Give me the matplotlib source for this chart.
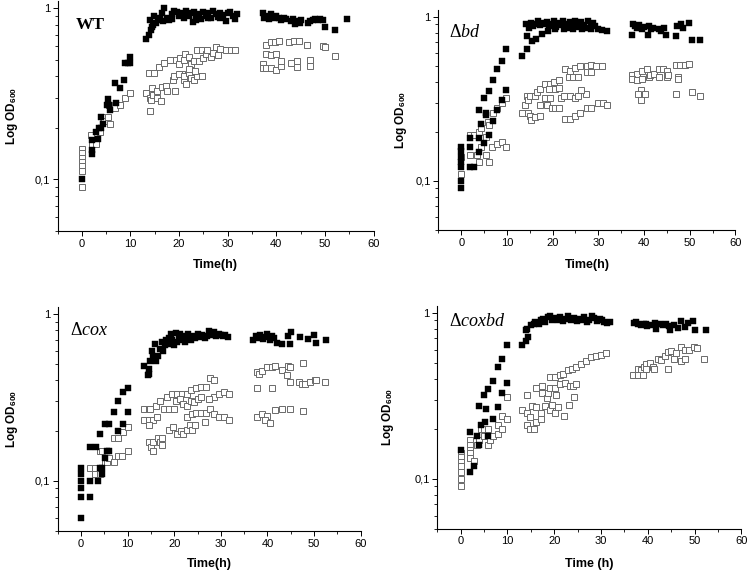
import matplotlib
matplotlib.use("Agg")
import matplotlib.pyplot as plt
from matplotlib.ticker import FixedLocator, NullFormatter, LogLocator, MultipleLocator

plt.rcParams['font.family'] = ['Liberation Sans', 'DejaVu Sans']
plt.rcParams['mathtext.fontset'] = 'custom'
plt.rcParams['mathtext.rm'] = 'Liberation Serif'
plt.rcParams['mathtext.it'] = 'Liberation Serif:italic'
plt.rcParams['mathtext.bf'] = 'Liberation Sans:bold'

# ---- WT ----
wt_fill_x = [0, 2, 2, 2, 2.9, 3.4, 3.5, 3.9, 3.9, 4.4, 5.2, 5.3, 5.5, 5.8, 7, 6.8, 7.9, 8.7, 8.8, 9.4, 9.9, 9.9,
             13.2, 13.8, 14.2, 14.4, 14.6, 14.1, 14.8, 15.2, 15.6, 16.0, 16.4, 17.0, 16.6, 17.5, 18.0, 18.5, 19.0,
             19.5, 20, 20.5, 21, 21.5, 22, 22.5, 22.8, 23, 23.5, 24, 24.5, 25, 25.5, 26, 26.5, 27, 27.5, 28, 28.5,
             29, 29.7, 30, 30.5, 31, 31.6, 32, 18.5, 21, 23.5, 26, 28.5,
             37.3, 37.5, 38, 38.5, 39, 39.5, 40, 40.5, 41, 41.5, 42, 43, 43.5, 43.9, 44.3, 44.8, 45, 46.5, 47, 47.5,
             48, 48.5, 49, 49.5, 50.1, 52.1, 54.5]
wt_fill_y = [0.10, 0.14, 0.148, 0.17, 0.19, 0.171, 0.20, 0.20, 0.23, 0.21, 0.27, 0.293, 0.27, 0.254, 0.28, 0.363,
             0.343, 0.38, 0.475, 0.475, 0.475, 0.515,
             0.66, 0.70, 0.74, 0.78, 0.80, 0.85, 0.90, 0.82, 0.85, 0.88, 0.93, 1.0, 0.84, 0.87, 0.85, 0.92, 0.96,
             0.95, 0.90, 0.94, 0.92, 0.96, 0.90, 0.93, 0.83, 0.95, 0.88, 0.92, 0.86, 0.95, 0.90, 0.94, 0.88, 0.96,
             0.92, 0.89, 0.94, 0.91, 0.84, 0.93, 0.95, 0.90, 0.86, 0.92, 0.86, 0.87, 0.85, 0.87, 0.87,
             0.93, 0.88, 0.90, 0.86, 0.92, 0.88, 0.90, 0.87, 0.85, 0.88, 0.86, 0.84, 0.86, 0.81, 0.84, 0.82, 0.85,
             0.82, 0.84, 0.85, 0.86, 0.85, 0.86, 0.85, 0.78, 0.74, 0.86]
wt_open_x = [0, 0, 0, 0, 0, 0, 0, 1.9, 2.1, 2.9, 3.8, 4.4, 4.6, 5.3, 5.8, 5.5, 6.8, 7.9, 8.9, 9.9,
             13.2, 14, 14, 14.3, 14.5, 14.6, 15.4, 15.4, 16.2, 16.4, 13.9, 14.8, 15.9, 16.9, 17.3, 17.5, 18.2,
             19.4, 18.8, 18.9, 19.1, 20.2, 21.2, 20.5, 21, 21.5,
             20, 21, 22, 22.5, 23, 23.6, 24.2, 24.7, 25, 25.5, 25.8, 26.5, 27, 27.5, 28, 28.5, 29.7, 30.6, 31.6,
             20, 21, 22, 22.5, 23, 23.6, 24.7, 22, 23.2,
             37.9, 38.9, 39.8, 40.6, 42.7, 43.7, 44.7, 46.4, 49.5, 50.1, 37.9, 38.9, 39.9,
             37.2, 37.2, 37.9, 38.9, 39.9, 41, 41, 43, 44.3, 44.3, 47, 47, 52]
wt_open_y = [0.15, 0.142, 0.134, 0.127, 0.12, 0.112, 0.09, 0.181, 0.161, 0.161, 0.19, 0.23, 0.22, 0.23, 0.21,
             0.27, 0.26, 0.27, 0.30, 0.32,
             0.32, 0.25, 0.30, 0.29, 0.34, 0.31, 0.33, 0.30, 0.285, 0.345, 0.42, 0.42, 0.45, 0.475, 0.35, 0.33,
             0.50, 0.50, 0.38, 0.40, 0.33, 0.51, 0.54, 0.41, 0.38, 0.36,
             0.47, 0.50, 0.52, 0.47, 0.49, 0.57, 0.49, 0.57, 0.51, 0.54, 0.57, 0.52, 0.55, 0.59, 0.53, 0.58,
             0.57, 0.57, 0.57,
             0.41, 0.40, 0.42, 0.39, 0.38, 0.40, 0.40, 0.44, 0.43,
             0.61, 0.63, 0.63, 0.64, 0.63, 0.64, 0.64, 0.61, 0.60, 0.59, 0.54, 0.53, 0.54,
             0.47, 0.445, 0.445, 0.445, 0.435, 0.46, 0.49, 0.48, 0.49, 0.45, 0.50, 0.46, 0.525]

# ---- delta bd ----
bd_fill_x = [0, 0, 0, 0, 0, 0, 0, 2, 2, 2, 2.9, 3.9, 3.9, 3.9, 4.4, 4.9, 4.9, 5.4, 5.4, 6, 6, 6.9, 6.9, 7.9, 7.9,
             9, 9, 9.9, 9.9, 13.4, 14.3, 14.3, 15.5, 16.4, 17.7, 19,
             14.2, 14.8, 15.3, 15.8, 16.3, 16.8, 17.3, 17.8, 18.3, 18.8, 19.3, 19.8, 20.3, 20.8, 21.3, 21.8, 22.3,
             22.8, 23.3, 23.8, 24.3, 24.8, 25.3, 25.8, 26.3, 26.8, 27.3, 27.8, 28.3, 28.8, 29.3, 29.9, 30.9, 32,
             20.5, 22.5, 24.5, 26.5, 28.5,
             37.4, 37.6, 38, 38.5, 39, 39.5, 40, 40.8, 41, 41.5, 42, 43.2, 43.8, 44.3, 44.8, 46.9, 47.3, 48, 48.5,
             49.8, 50.5, 52.3]
bd_fill_y = [0.16, 0.152, 0.14, 0.13, 0.122, 0.10, 0.091, 0.183, 0.16, 0.122, 0.122, 0.183, 0.15, 0.272, 0.222,
             0.322, 0.17, 0.26, 0.252, 0.19, 0.352, 0.231, 0.41, 0.27, 0.48, 0.54, 0.31, 0.36, 0.635, 0.58, 0.635,
             0.77, 0.71, 0.73, 0.79, 0.82,
             0.90, 0.86, 0.92, 0.88, 0.91, 0.94, 0.89, 0.92, 0.90, 0.93, 0.88, 0.91, 0.94, 0.87, 0.92, 0.89, 0.95,
             0.90, 0.86, 0.93, 0.88, 0.95, 0.91, 0.87, 0.93, 0.89, 0.86, 0.94, 0.90, 0.92, 0.88, 0.85, 0.83, 0.82,
             0.85, 0.84, 0.85, 0.84, 0.85,
             0.78, 0.90, 0.88, 0.86, 0.89, 0.85, 0.87, 0.78, 0.88, 0.85, 0.86, 0.84, 0.82, 0.86, 0.78, 0.77, 0.88,
             0.90, 0.86, 0.92, 0.72, 0.72]
bd_open_x = [0, 0, 2, 2, 2.9, 3.4, 3.9, 3.9, 4.4, 4.4, 5.4, 5.4, 5.9, 6, 6, 6.8, 6.9, 7.9, 9, 9.9, 7.9, 9, 9.9,
             13.4, 14, 14.4, 14.6, 14.6, 15.1, 15.3, 16.2, 17.3, 15.1, 16.1, 16.5, 17.3, 17.3, 18.4, 18.8, 19.5,
             18.4, 19.5, 20.3, 21.4, 19.1, 20.6, 21.4, 19.9, 20.6, 21.5, 21.9, 22.6, 23.7, 24.8, 25.5,
             23.6, 24.5, 25.5, 22.8, 23.9, 25, 26.1, 27.5, 28.5, 29.6, 30.7, 27.5, 28.5,
             22.8, 23.9, 25, 25.9, 27.5, 28.5, 29.9, 31, 31.9, 27.4, 26.3,
             37.4, 38.5, 39.6, 40.7, 37.4, 38.5, 39.6, 41, 41.4, 42.1, 43.2, 44.2, 45.1, 43.2, 45.1, 45.2,
             39.4, 38.7, 40.3, 39.4, 47, 47.9, 48.9, 49.8, 47.4, 47.4, 47, 50.5, 52.3]
bd_open_y = [0.14, 0.11, 0.19, 0.143, 0.19, 0.143, 0.13, 0.20, 0.21, 0.16, 0.143, 0.185, 0.23, 0.22, 0.13, 0.16,
             0.26, 0.167, 0.172, 0.16, 0.28, 0.30, 0.32,
             0.26, 0.29, 0.33, 0.31, 0.26, 0.25, 0.235, 0.245, 0.25, 0.33, 0.33, 0.35, 0.365, 0.29, 0.32, 0.29,
             0.32, 0.39, 0.39, 0.40, 0.41, 0.365, 0.365, 0.37, 0.28, 0.28, 0.28, 0.32, 0.33, 0.33, 0.32, 0.33,
             0.43, 0.43, 0.43, 0.48, 0.47, 0.49, 0.50, 0.50, 0.51, 0.50, 0.50, 0.46, 0.46,
             0.24, 0.24, 0.25, 0.26, 0.28, 0.28, 0.30, 0.30, 0.29, 0.34, 0.36,
             0.44, 0.45, 0.47, 0.48, 0.42, 0.415, 0.42, 0.43, 0.44, 0.45, 0.48, 0.48, 0.47, 0.43, 0.43, 0.44,
             0.36, 0.34, 0.34, 0.31, 0.51, 0.51, 0.51, 0.52, 0.43, 0.42, 0.34, 0.35, 0.33]

# ---- delta cox ----
cox_fill_x = [0, 0, 0, 0, 0, 0, 2, 3.2, 2, 2, 3.6, 4.1, 4.6, 4.6, 4.1, 5.1, 5.6, 5.1, 6.1, 6.1, 7.1, 8, 8, 9, 10, 9,
              10,
              13.5, 14.4, 14.6, 14.5, 14.8, 15.5, 15.2, 15.9, 16, 16.6, 17, 17.3, 17.5, 18, 18.2, 18.8, 19, 19.3,
              19.6, 20, 20.3, 20.7, 21, 21.3, 21.7, 22, 22.4, 22.8, 23, 23.5, 24, 24.5, 25, 25.5, 26, 26.5, 27,
              27.5, 28, 28.5, 29, 29.5, 30, 30.5, 31, 31.5,
              37, 37.5, 38, 38.5, 39, 39.5, 40, 40.5, 41, 41.5, 42, 43.1, 44.9, 44.5, 45.1, 47, 48.8, 49.9, 50.4,
              52.5]
cox_fill_y = [0.12, 0.11, 0.10, 0.091, 0.08, 0.06, 0.16, 0.16, 0.10, 0.08, 0.10, 0.12, 0.12, 0.11, 0.19, 0.138,
              0.15, 0.22, 0.22, 0.15, 0.26, 0.30, 0.20, 0.34, 0.36, 0.22, 0.26,
              0.49, 0.43, 0.44, 0.47, 0.52, 0.55, 0.60, 0.66, 0.52, 0.56, 0.62, 0.68, 0.60, 0.65, 0.70, 0.72, 0.66,
              0.76, 0.70, 0.65, 0.77, 0.68, 0.72, 0.76, 0.70, 0.74, 0.68, 0.72, 0.76, 0.70, 0.74, 0.72, 0.76, 0.73,
              0.75, 0.72, 0.74, 0.79, 0.75, 0.78, 0.74, 0.76, 0.75, 0.74, 0.75, 0.73,
              0.70, 0.74, 0.72, 0.75, 0.71, 0.73, 0.76, 0.70, 0.74, 0.72, 0.67, 0.66, 0.66, 0.74, 0.78, 0.73, 0.71,
              0.75, 0.67, 0.695]
cox_open_x = [2, 3.1, 3.1, 4.1, 4.1, 4.6, 5.1, 5.6, 6.1, 7.1, 7.1, 8, 8, 8.9, 9, 10, 10,
              13.5, 14.5, 14.9, 16, 17, 17.8, 18.9, 18.5, 19.6, 20.6, 21.7, 22.8, 20.3, 21.2, 21.8, 19.9, 22.7,
              23.6, 24.3, 25, 25.7, 23.6, 24.7, 25.7, 26.8, 27.6, 28.5, 28.5, 29.6, 30.7, 31.7, 27.5,
              13.5, 14.6, 15.5, 16.4, 14.5, 14.5, 15, 15.5, 15.5, 16.5, 16.9, 17.4, 17.4,
              18.9, 19.8, 20.7, 21.4, 21.9, 22.8, 23.4, 23.9, 24.4, 22.8, 23.9, 24.6, 25.7, 26.8, 27.6, 28.5, 29.6,
              30.7, 31.7, 26.5,
              37.8, 38.1, 38.9, 39.9, 41, 41.7, 43.1, 44.2, 44.5, 44.9, 47.6,
              37.8, 41, 44.9, 46.7, 47.4, 48.1, 49.2, 50.2, 50.4, 52.4,
              37.8, 38.9, 39.9, 39.5, 40.6, 41.7, 43.1, 44.9, 47.6]
cox_open_y = [0.12, 0.12, 0.11, 0.11, 0.15, 0.15, 0.13, 0.13, 0.138, 0.13, 0.18, 0.18, 0.14, 0.14, 0.196, 0.21,
              0.15,
              0.269, 0.269, 0.269, 0.28, 0.30, 0.269, 0.269, 0.32, 0.331, 0.331, 0.331, 0.331, 0.302, 0.31, 0.29,
              0.269, 0.28, 0.30, 0.295, 0.31, 0.32, 0.35, 0.36, 0.365, 0.363, 0.413, 0.40, 0.32, 0.33, 0.34, 0.33,
              0.31,
              0.231, 0.231, 0.231, 0.24, 0.215, 0.17, 0.16, 0.151, 0.17, 0.18, 0.17, 0.18, 0.165,
              0.201, 0.209, 0.19, 0.20, 0.19, 0.201, 0.215, 0.201, 0.215, 0.24, 0.25, 0.255, 0.255, 0.255, 0.27,
              0.253, 0.24, 0.243, 0.231, 0.224,
              0.447, 0.44, 0.455, 0.479, 0.479, 0.49, 0.46, 0.43, 0.49, 0.479, 0.506,
              0.36, 0.36, 0.389, 0.389, 0.38, 0.38, 0.39, 0.40, 0.40, 0.389,
              0.24, 0.25, 0.245, 0.231, 0.222, 0.265, 0.269, 0.269, 0.262]

# ---- delta coxbd ----
cb_fill_x = [0, 1.9, 1.9, 2.9, 3.4, 3.9, 3.9, 4.4, 4.9, 5.3, 5.4, 5.9, 5.9, 6.9, 6.9, 7.9, 7.9, 8.8, 8.8, 9.9, 9.9,
             13.2, 14, 14.3, 14, 14.2,
             15.1, 15.6, 16, 16.7, 17.1, 17.6, 18.1, 18.7, 19.2, 19.6, 20.2, 20.8, 21.3, 21.9, 22.5, 23, 23.6, 24.2,
             24.8, 25.3, 25.9, 26.4, 27, 27.5, 28, 28.6, 29.1, 29.7, 30.2, 30.7, 31.3, 31.9,
             37, 37.4, 37.9, 38.6, 39.3, 39.6, 39.9, 40.9, 41.6, 41.8, 42.7, 43.2, 43.8, 44.6, 44.8, 45.7, 46.5,
             47.2, 47.9, 48.6, 49.7, 50.2, 52.4]
cb_fill_y = [0.15, 0.11, 0.19, 0.12, 0.18, 0.275, 0.16, 0.21, 0.32, 0.22, 0.264, 0.347, 0.18, 0.39, 0.23, 0.27,
             0.47, 0.525, 0.33, 0.375, 0.636,
             0.636, 0.68, 0.71, 0.79, 0.80,
             0.84, 0.86, 0.88, 0.86, 0.90, 0.92, 0.88, 0.94, 0.96, 0.90, 0.93, 0.91, 0.94, 0.89, 0.92, 0.95, 0.91,
             0.93, 0.89, 0.92, 0.90, 0.94, 0.88, 0.91, 0.95, 0.93, 0.89, 0.92, 0.90, 0.88, 0.87, 0.88,
             0.87, 0.88, 0.86, 0.84, 0.85, 0.86, 0.83, 0.84, 0.87, 0.80, 0.85, 0.84, 0.86, 0.83, 0.79, 0.84, 0.81,
             0.89, 0.82, 0.87, 0.89, 0.79, 0.79]
cb_open_x = [0, 0, 0, 0, 0, 0, 0, 1.9, 1.9, 1.9, 1.9, 1.9, 2.9, 3.4, 3.9, 4.4, 4.9, 4.9, 5.9, 5.9, 6.3, 6.9, 7.9,
             7.9, 8.9, 8.8, 9.9, 9.9,
             14.2, 13.2, 14.1, 14.9, 14.1, 14.9, 15.6, 15.3, 16.1, 17.1, 18.1, 19.2, 20.2, 16.1, 17.4, 18.4, 19.5,
             16.2, 17.1, 17.4, 18.6, 19.2, 20.3, 19.2, 20.2, 21.2, 21.9, 22.9, 23.9, 24.6, 25.7, 26.8, 27.9, 28.9,
             30, 31.1, 20.2, 21.2, 22.3, 23.3, 24, 24.6, 20.9, 23.1, 24.2, 22.2,
             36.8, 37.9, 38.6, 39.3, 39.6, 40.4, 41.1, 42.1, 42.8, 43.6, 44.3, 45, 46.1, 47.1, 47.9, 48.9, 49.9,
             50.5, 37.9, 38.9, 39.6, 41.3, 44.3, 45.7, 47.1, 47.9, 52.1]
cb_open_y = [0.142, 0.135, 0.127, 0.12, 0.11, 0.10, 0.09, 0.17, 0.16, 0.15, 0.142, 0.133, 0.128, 0.16, 0.17, 0.20,
             0.20, 0.18, 0.20, 0.16, 0.17, 0.18, 0.185, 0.21, 0.24, 0.20, 0.23, 0.312,
             0.32, 0.26, 0.25, 0.235, 0.21, 0.20, 0.20, 0.275, 0.27, 0.25, 0.275, 0.26, 0.25, 0.35, 0.33, 0.305,
             0.28, 0.22, 0.23, 0.36, 0.33, 0.35, 0.32, 0.41, 0.41, 0.42, 0.43, 0.45, 0.46, 0.47, 0.49, 0.51, 0.54,
             0.55, 0.56, 0.57, 0.35, 0.37, 0.38, 0.36, 0.36, 0.37, 0.27, 0.28, 0.31, 0.24,
             0.42, 0.46, 0.45, 0.47, 0.49, 0.50, 0.47, 0.53, 0.52, 0.55, 0.58, 0.59, 0.57, 0.62, 0.60, 0.60,
             0.62, 0.61, 0.42, 0.42, 0.46, 0.46, 0.46, 0.53, 0.51, 0.53, 0.53]

panels = [
    ("WT", wt_fill_x, wt_fill_y, wt_open_x, wt_open_y, "Time(h)"),
    (r"$\Delta\mathit{bd}$", bd_fill_x, bd_fill_y, bd_open_x, bd_open_y, "Time(h)"),
    (r"$\Delta\mathit{cox}$", cox_fill_x, cox_fill_y, cox_open_x, cox_open_y, "Time(h)"),
    (r"$\Delta\mathit{coxbd}$", cb_fill_x, cb_fill_y, cb_open_x, cb_open_y, "Time (h)"),
]

# axes rectangles [left, bottom, width, height] in figure fraction
rects = [[0.0769, 0.5976, 0.4225, 0.4007],
         [0.5861, 0.5988, 0.3970, 0.3835],
         [0.0771, 0.0749, 0.4051, 0.3899],
         [0.5846, 0.0789, 0.4064, 0.3882]]
ylab_x = [-0.144, -0.127, -0.152, -0.162]
xlab_y = [-0.148, -0.158, -0.146, -0.157]
name_pos = [(-1.2, 0.80), (-2.7, 0.80), (-2.35, 0.80), (-2.6, 0.89)]

fig = plt.figure(figsize=(7.48, 5.74), dpi=100)

for i, (name, fx, fy, ox, oy, xl) in enumerate(panels):
    ax = fig.add_axes(rects[i])
    ax.plot(ox, oy, linestyle="none", marker="s", ms=4.0, mfc="white", mec="#6a6a6a", mew=0.7)
    ax.plot(fx, fy, linestyle="none", marker="s", ms=3.8, mfc="black", mec="black", mew=0.3)
    ax.set_yscale("log")
    ax.set_xlim(-5, 60)
    ax.set_ylim(0.05, 1.1)
    ax.spines["top"].set_visible(False)
    ax.spines["right"].set_visible(False)
    ax.spines["left"].set_linewidth(0.8)
    ax.spines["bottom"].set_linewidth(0.8)
    ax.set_xticks([0, 10, 20, 30, 40, 50, 60])
    ax.xaxis.set_minor_locator(MultipleLocator(5))
    ax.yaxis.set_major_locator(FixedLocator([0.1, 1]))
    ax.set_yticklabels(["0,1", "1"])
    ax.yaxis.set_minor_locator(LogLocator(base=10, subs=[0.2, 0.3, 0.4, 0.5, 0.6, 0.7, 0.8, 0.9], numticks=10))
    ax.yaxis.set_minor_formatter(NullFormatter())
    ax.tick_params(which="major", direction="out", length=3.5, width=0.7, labelsize=8, pad=2)
    ax.tick_params(which="minor", direction="out", length=2, width=0.6)
    ax.set_xlabel(xl, fontsize=9, fontweight="bold")
    ax.xaxis.set_label_coords(0.5, xlab_y[i])
    ax.xaxis.label.set_verticalalignment("center")
    ax.set_ylabel(r"Log OD$_{\mathbf{600}}$", fontsize=8.5, fontweight="bold")
    ax.yaxis.set_label_coords(ylab_x[i], 0.5)
    ax.yaxis.label.set_verticalalignment("center")
    if name == "WT":
        ax.text(name_pos[i][0], name_pos[i][1], name, fontsize=12.5, fontweight="bold",
                family="Liberation Serif", ha="left", va="center")
    else:
        ax.text(name_pos[i][0], name_pos[i][1], name, fontsize=13, ha="left", va="center")

fig.savefig("out.png", dpi=100)
